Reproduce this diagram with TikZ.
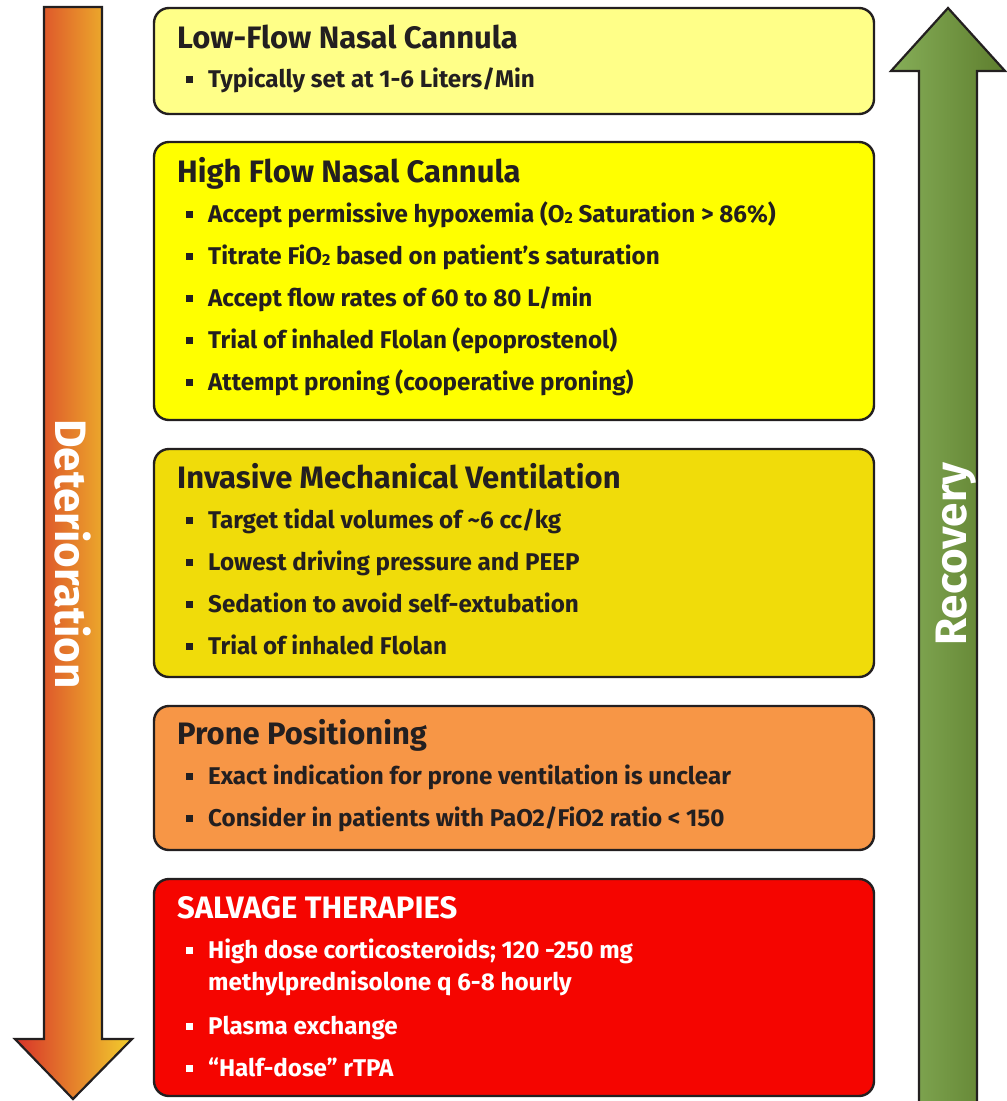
\documentclass[tikz,border=0pt]{standalone}
\usepackage{fontspec}
\setmainfont{Fira Sans}
\usetikzlibrary{positioning}
\definecolor{ink}{HTML}{231F20}
\definecolor{cA}{HTML}{FFFF88}
\definecolor{cB}{HTML}{FFFF00}
\definecolor{cC}{HTML}{F0DC0A}
\definecolor{cD}{HTML}{F79646}
\definecolor{cE}{HTML}{F50500}
\definecolor{ordark}{HTML}{D8332A}
\definecolor{orlight}{HTML}{F2CF2C}
\definecolor{grlight}{HTML}{86AE58}
\definecolor{grdark}{HTML}{5E7E2E}
\newcommand{\sub}[1]{\raisebox{-0.1ex}{\fontsize{16}{16}\selectfont #1}}
\tikzset{
  panel/.style={draw=ink, line width=2.4pt, rounded corners=15pt},
  ttl/.style={anchor=base west, inner sep=0pt, font=\bfseries\fontsize{31}{33}\selectfont, text=ink},
  itm/.style={anchor=base west, inner sep=0pt, font=\bfseries\fontsize{24.2}{32}\selectfont, text=ink, align=left},
  blt/.style={fill=ink, minimum size=7pt, inner sep=0pt},
  arrowshape/.style={draw=ink, line width=2.2pt, line join=miter},
  sidetext/.style={text=white, font=\bfseries\fontsize{44}{44}\selectfont, inner sep=0pt, anchor=base},
}
\newcommand{\itemat}[3]{% y, text, colour
  \node[itm, text=#3] at (208,#1) {#2};
  \node[blt, fill=#3] at (189,#1-8) {};
}
\begin{document}
\begin{tikzpicture}[x=1pt,y=-1pt]
\useasboundingbox (0,0) rectangle (1007,1101);
% left arrow
\draw[arrowshape, left color=ordark, right color=orlight]
  (44,7) -- (102,7) -- (102,1039) -- (132,1039) -- (73,1099) -- (15,1039) -- (44,1039) -- cycle;
\node[sidetext, rotate=-90] (det) at (55,554) {Deterioration};
% right arrow
\draw[arrowshape, left color=grlight, right color=grdark]
  (948,8) -- (1005,71) -- (977,71) -- (977,1115) -- (919,1115) -- (919,71) -- (891,71) -- cycle;
\node[sidetext, rotate=90] (rec) at (966,554) {Recovery};
% panels
\draw[panel, fill=cA] (154,8) rectangle (874,114);
\draw[panel, fill=cB] (154,142) rectangle (874,420);
\draw[panel, fill=cC] (154,449) rectangle (874,677);
\draw[panel, fill=cD] (154,706) rectangle (874,850);
\draw[panel, fill=cE] (154,879) rectangle (874,1096);
% box 1
\node[ttl] (t1) at (177,48) {Low-Flow Nasal Cannula};
\itemat{87}{Typically set at 1-6 Liters/Min}{ink}
% box 2
\node[ttl] (t2) at (177,182) {High Flow Nasal Cannula};
\itemat{222}{Accept permissive hypoxemia (O\sub{2} Saturation > 86\%)}{ink}
\itemat{264}{Titrate FiO\sub{2} based on patient’s saturation}{ink}
\itemat{306}{Accept flow rates of 60 to 80 L/min}{ink}
\itemat{348}{Trial of inhaled Flolan (epoprostenol)}{ink}
\itemat{390}{Attempt proning (cooperative proning)}{ink}
% box 3
\node[ttl] (t3) at (177,488) {Invasive Mechanical Ventilation};
\itemat{528}{Target tidal volumes of \textasciitilde 6 cc/kg}{ink}
\itemat{570}{Lowest driving pressure and PEEP}{ink}
\itemat{612}{Sedation to avoid self-extubation}{ink}
\itemat{654}{Trial of inhaled Flolan}{ink}
% box 4
\node[ttl] (t4) at (177,744) {Prone Positioning};
\itemat{784}{Exact indication for prone ventilation is unclear}{ink}
\itemat{826}{Consider in patients with PaO2/FiO2 ratio < 150}{ink}
% box 5
\node[ttl, text=white] (t5) at (177,918) {SALVAGE THERAPIES};
\itemat{958}{High dose corticosteroids; 120 -250 mg}{white}
\node[itm, text=white] at (208,990) {methylprednisolone q 6-8 hourly};
\itemat{1034}{Plasma exchange}{white}
\itemat{1076}{“Half-dose” rTPA}{white}
\end{tikzpicture}
\end{document}
